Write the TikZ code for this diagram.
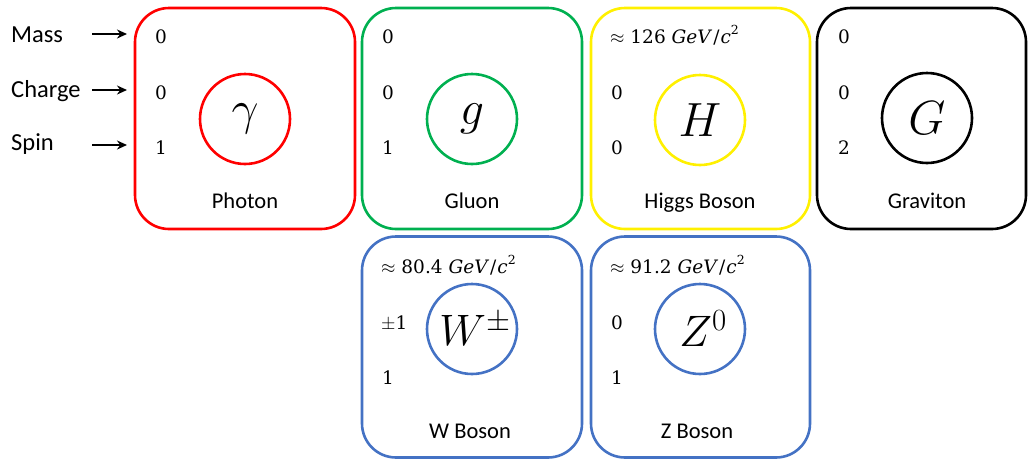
\RequirePackage{fix-cm}
\documentclass[tikz,border=0pt]{standalone}
\usepackage{fontspec}
\newfontfamily\calfont{Carlito}
\newfontfamily\valfont{DejaVu Serif}
\usetikzlibrary{arrows.meta}
\definecolor{cred}{RGB}{255,0,0}
\definecolor{cgreen}{RGB}{0,176,80}
\definecolor{cyellow}{RGB}{255,240,0}
\definecolor{cblue}{RGB}{68,114,196}
\newcommand{\gevc}{\textit{GeV}\kern1pt/\kern1pt\textit{c}\raisebox{0.45em}{\fontsize{12.5}{13}\selectfont 2}}
\tikzset{
  boxstyle/.style={draw=#1, line width=2.6pt, rounded corners=34pt, minimum height=221pt, inner sep=0pt},
  partcirc/.style={draw=#1, line width=2.6pt, circle, minimum size=90pt, inner sep=0pt},
  symtext/.style={inner sep=0pt, font=\fontsize{48}{50}\selectfont},
  symtextsm/.style={inner sep=0pt, font=\fontsize{44}{46}\selectfont},
  valtext/.style={anchor=base west, inner sep=0pt, font=\valfont\fontsize{18.5}{20}\selectfont},
  nametext/.style={anchor=base, inner sep=0pt, font=\calfont\fontsize{22.5}{25}\selectfont},
  labeltext/.style={anchor=base west, inner sep=0pt, font=\calfont\fontsize{24.5}{27}\selectfont},
  arr/.style={-{Stealth[length=10pt,width=9pt]}, line width=2.2pt}
}
\begin{document}
\begin{tikzpicture}[x=1pt,y=-1pt]
\useasboundingbox (0,0) rectangle (1028,461);
% boxes
\node[boxstyle=cred, minimum width=220pt] (bph) at (245,118.5) {};
\node[boxstyle=cgreen, minimum width=220pt] (bgl) at (472,118.5) {};
\node[boxstyle=cyellow, minimum width=219pt] (bhi) at (700.5,118.5) {};
\node[boxstyle=black, minimum width=209pt] (bgr) at (921.5,118.5) {};
\node[boxstyle=cblue, minimum width=220pt] (bw) at (472,347) {};
\node[boxstyle=cblue, minimum width=219pt] (bz) at (700.5,347) {};
% circles
\node[partcirc=cred] (cph) at (245,119) {};
\node[partcirc=cgreen] (cgl) at (472,119) {};
\node[partcirc=cyellow] (chi) at (700,120) {};
\node[partcirc=black] (cgr) at (927,118) {};
\node[partcirc=cblue] (cw) at (472,329) {};
\node[partcirc=cblue] (cz) at (700,329) {};
\node[symtext] (sph) at (cph) {$\gamma$};
\node[symtext] (sgl) at (cgl) {$g$};
\node[symtext] (shi) at (chi) {$H$};
\node[symtext] (sgr) at (cgr) {$G$};
\node[symtextsm] (swb) at ([xshift=3pt]cw.center) {$W^{\pm}$};
\node[symtextsm] (szb) at ([xshift=3pt]cz.center) {$Z^{0}$};
% names
\node[nametext] (nph) at (245,208) {Photon};
\node[nametext] (ngl) at (472,208) {Gluon};
\node[nametext] (nhi) at (700,208) {Higgs Boson};
\node[nametext] (ngr) at (927,208) {Graviton};
\node[nametext] (nw) at (470,438) {W Boson};
\node[nametext] (nz) at (697,438) {Z Boson};
% values photon
\node[valtext] (mph) at (155,43) {0};
\node[valtext] (qph) at (155,99) {0};
\node[valtext] (sph1) at (155,154) {1};
% gluon
\node[valtext] (mgl) at (382,43) {0};
\node[valtext] (qgl) at (382,99) {0};
\node[valtext] (sgl1) at (382,154) {1};
% higgs
\node[valtext] (mhi) at (610,43) {$\approx$ 126 \gevc};
\node[valtext] (qhi) at (611,99) {0};
\node[valtext] (shi1) at (611,154) {0};
% graviton
\node[valtext] (mgr) at (838,43) {0};
\node[valtext] (qgr) at (838,99) {0};
\node[valtext] (sgr1) at (838,154) {2};
% W
\node[valtext] (mw) at (381,273) {$\approx$ 80.4 \gevc};
\node[valtext] (qw) at (381,329) {$\pm$1};
\node[valtext] (sw) at (382,384) {1};
% Z
\node[valtext] (mz) at (610,273) {$\approx$ 91.2 \gevc};
\node[valtext] (qz) at (611,329) {0};
\node[valtext] (sz) at (611,384) {1};
% left labels
\node[labeltext] (lm) at (11,42) {Mass};
\node[labeltext] (lq) at (11,97) {Charge};
\node[labeltext] (ls) at (11,150) {Spin};
\coordinate (am1) at (92,34);
\coordinate (am2) at (127,34);
\coordinate (aq1) at (92,90);
\coordinate (aq2) at (127,90);
\coordinate (as1) at (92,145);
\coordinate (as2) at (127,145);
\draw[arr] (am1) -- (am2);
\draw[arr] (aq1) -- (aq2);
\draw[arr] (as1) -- (as2);
\end{tikzpicture}
\end{document}
